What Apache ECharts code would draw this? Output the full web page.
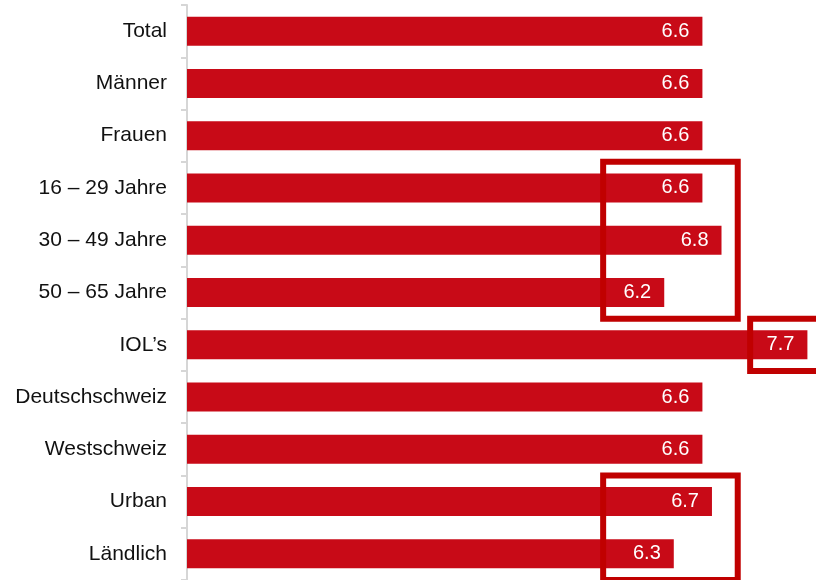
<!DOCTYPE html>
<html>
<head>
<meta charset="utf-8">
<script src="https://cdn.jsdelivr.net/npm/echarts@6/dist/echarts.min.js"></script>
<style>
  html, body { margin: 0; padding: 0; background: #fff; }
  #chart { width: 816px; height: 580px; }
</style>
</head>
<body>
<div id="chart"></div>
<script>
const categories = ['Total', 'Männer', 'Frauen', '16 – 29 Jahre', '30 – 49 Jahre', '50 – 65 Jahre',
  'IOL’s', 'Deutschschweiz', 'Westschweiz', 'Urban', 'Ländlich']
const values = [6.6, 6.6, 6.6, 6.6, 6.8, 6.2, 7.7, 6.6, 6.6, 6.7, 6.3]

// highlight boxes: category range and value range
const boxFrom = ['16 – 29 Jahre', 'IOL’s', 'Urban']
const boxTo = ['50 – 65 Jahre', 'IOL’s', 'Ländlich']
const boxX0 = [5.56, 7.1, 5.56]
const boxX1 = [6.97, 8.2, 6.97]

const chart = echarts.init(document.getElementById('chart'))
const font = '"Liberation Sans", Arial, sans-serif'

chart.setOption({
  animation: false,
  grid: { left: 187, right: 0, top: 5, bottom: -1 },
  xAxis: {
    type: 'value',
    min: 1.2,
    max: 7.79,
    show: false
  },
  yAxis: {
    type: 'category',
    data: categories,
    inverse: true,
    axisLine: { show: true, lineStyle: { color: '#d6d6d6', width: 2 } },
    axisTick: { show: true, length: 6, lineStyle: { color: '#d6d6d6', width: 2 } },
    axisLabel: { color: '#111', fontSize: 21, fontFamily: font, margin: 20 }
  },
  series: [{
    type: 'bar',
    data: values,
    barWidth: 29,
    itemStyle: { color: '#c80a17' },
    label: {
      show: true,
      position: 'insideRight',
      distance: 13,
      color: '#fff',
      fontSize: 20,
      fontFamily: font,
      formatter: p => p.value.toFixed(1)
    }
  }]
})

// draw the red outline boxes from axis coordinates
const c0 = chart.convertToPixel({ yAxisIndex: 0 }, categories[0])
const c1 = chart.convertToPixel({ yAxisIndex: 0 }, categories[1])
const half = (c1 - c0) / 2
const boxes = boxFrom.map((from, i) => {
  const yTop = chart.convertToPixel({ yAxisIndex: 0 }, from) - half
  const yBot = chart.convertToPixel({ yAxisIndex: 0 }, boxTo[i]) + half
  const xl = chart.convertToPixel({ xAxisIndex: 0 }, boxX0[i])
  const xr = chart.convertToPixel({ xAxisIndex: 0 }, boxX1[i])
  return {
    type: 'rect',
    shape: { x: xl, y: yTop, width: xr - xl, height: yBot - yTop },
    style: { fill: 'none', stroke: '#c00000', lineWidth: 6 },
    z: 100
  }
})
chart.setOption({ graphic: boxes })
</script>
</body>
</html>
